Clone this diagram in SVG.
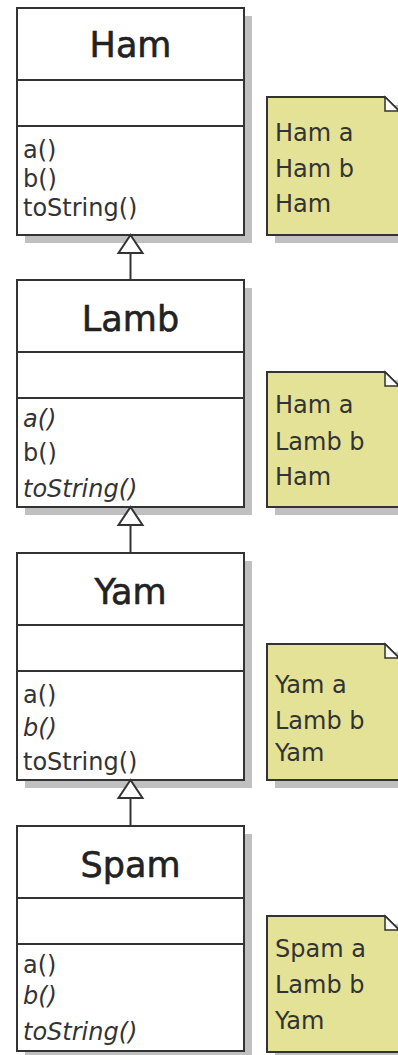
<svg xmlns="http://www.w3.org/2000/svg" width="398" height="1055" viewBox="0 0 398 1055">
<defs>
<style>
.shadow{fill:#c0c0c0;stroke:none}
.box{fill:#ffffff;stroke:#333333;stroke-width:2}
.sep{stroke:#333333;stroke-width:2;fill:none}
.title{font-family:"DejaVu Sans",sans-serif;font-size:35px;fill:#222222;stroke:#222222;stroke-width:0.6;text-anchor:middle}
.m{font-family:"DejaVu Sans",sans-serif;font-size:24px;fill:#333333}
.i{font-style:italic}
.note{fill:#e3e296;stroke:#333333;stroke-width:2}
.fold{fill:#ffffff;stroke:#333333;stroke-width:1.5}
.n{font-family:"DejaVu Sans",sans-serif;font-size:24px;fill:#333333}
.conn{stroke:#333333;stroke-width:2;fill:none}
.tri{fill:#ffffff;stroke:#333333;stroke-width:2}
</style>
</defs>
<rect width="398" height="1055" fill="#ffffff"/>

<g id="Ham">
<rect class="shadow" x="25" y="16" width="227" height="227"/>
<rect class="box" x="17" y="8" width="227" height="227"/>
<line class="sep" x1="17" y1="80" x2="244" y2="80"/>
<line class="sep" x1="17" y1="126" x2="244" y2="126"/>
<text class="title" x="130.5" y="57">Ham</text>
<text class="m" x="23" y="158">a()</text>
<text class="m" x="23" y="187">b()</text>
<text class="m" x="23" y="216">toString()</text>
</g>
<g id="HamNote">
<rect class="shadow" x="275" y="105" width="131" height="138"/>
<path class="note" d="M267 97 H385 L399 111 V235 H267 Z"/>
<path class="fold" d="M385 97 V111 H399 Z"/>
<text class="n" x="275" y="141">Ham a</text>
<text class="n" x="275" y="177">Ham b</text>
<text class="n" x="275" y="212">Ham</text>
</g>

<g id="Lamb">
<rect class="shadow" x="25" y="288" width="227" height="227"/>
<rect class="box" x="17" y="280" width="227" height="227"/>
<line class="sep" x1="17" y1="352" x2="244" y2="352"/>
<line class="sep" x1="17" y1="398" x2="244" y2="398"/>
<text class="title" x="130.5" y="331">Lamb</text>
<text class="m i" x="23" y="427">a()</text>
<text class="m" x="23" y="461">b()</text>
<text class="m i" x="23" y="497">toString()</text>
</g>
<g id="LambNote">
<rect class="shadow" x="275" y="380" width="131" height="135"/>
<path class="note" d="M267 372 H385 L399 386 V507 H267 Z"/>
<path class="fold" d="M385 372 V386 H399 Z"/>
<text class="n" x="275" y="413">Ham a</text>
<text class="n" x="275" y="450">Lamb b</text>
<text class="n" x="275" y="485">Ham</text>
</g>

<g id="Yam">
<rect class="shadow" x="25" y="561" width="227" height="227"/>
<rect class="box" x="17" y="553" width="227" height="227"/>
<line class="sep" x1="17" y1="625" x2="244" y2="625"/>
<line class="sep" x1="17" y1="671" x2="244" y2="671"/>
<text class="title" x="130.5" y="604">Yam</text>
<text class="m" x="23" y="703">a()</text>
<text class="m i" x="23" y="736">b()</text>
<text class="m" x="23" y="770">toString()</text>
</g>
<g id="YamNote">
<rect class="shadow" x="275" y="652" width="131" height="136"/>
<path class="note" d="M267 644 H385 L399 658 V780 H267 Z"/>
<path class="fold" d="M385 644 V658 H399 Z"/>
<text class="n" x="275" y="693">Yam a</text>
<text class="n" x="275" y="729">Lamb b</text>
<text class="n" x="275" y="761">Yam</text>
</g>

<g id="Spam">
<rect class="shadow" x="25" y="834" width="227" height="225"/>
<rect class="box" x="17" y="826" width="227" height="225"/>
<line class="sep" x1="17" y1="898" x2="244" y2="898"/>
<line class="sep" x1="17" y1="944" x2="244" y2="944"/>
<text class="title" x="130.5" y="877">Spam</text>
<text class="m" x="23" y="973">a()</text>
<text class="m i" x="23" y="1004">b()</text>
<text class="m i" x="23" y="1040">toString()</text>
</g>
<g id="SpamNote">
<rect class="shadow" x="275" y="924" width="131" height="136"/>
<path class="note" d="M267 916 H385 L399 930 V1052 H267 Z"/>
<path class="fold" d="M385 916 V930 H399 Z"/>
<text class="n" x="275" y="957">Spam a</text>
<text class="n" x="275" y="993">Lamb b</text>
<text class="n" x="275" y="1029">Yam</text>
</g>

<g id="connectors">
<line class="conn" x1="130.5" y1="253" x2="130.5" y2="280"/>
<path class="tri" d="M130.5 235 L142.5 253 H118.5 Z"/>
<line class="conn" x1="130.5" y1="525" x2="130.5" y2="553"/>
<path class="tri" d="M130.5 507 L142.5 525 H118.5 Z"/>
<line class="conn" x1="130.5" y1="798" x2="130.5" y2="826"/>
<path class="tri" d="M130.5 780 L142.5 798 H118.5 Z"/>
</g>
</svg>
